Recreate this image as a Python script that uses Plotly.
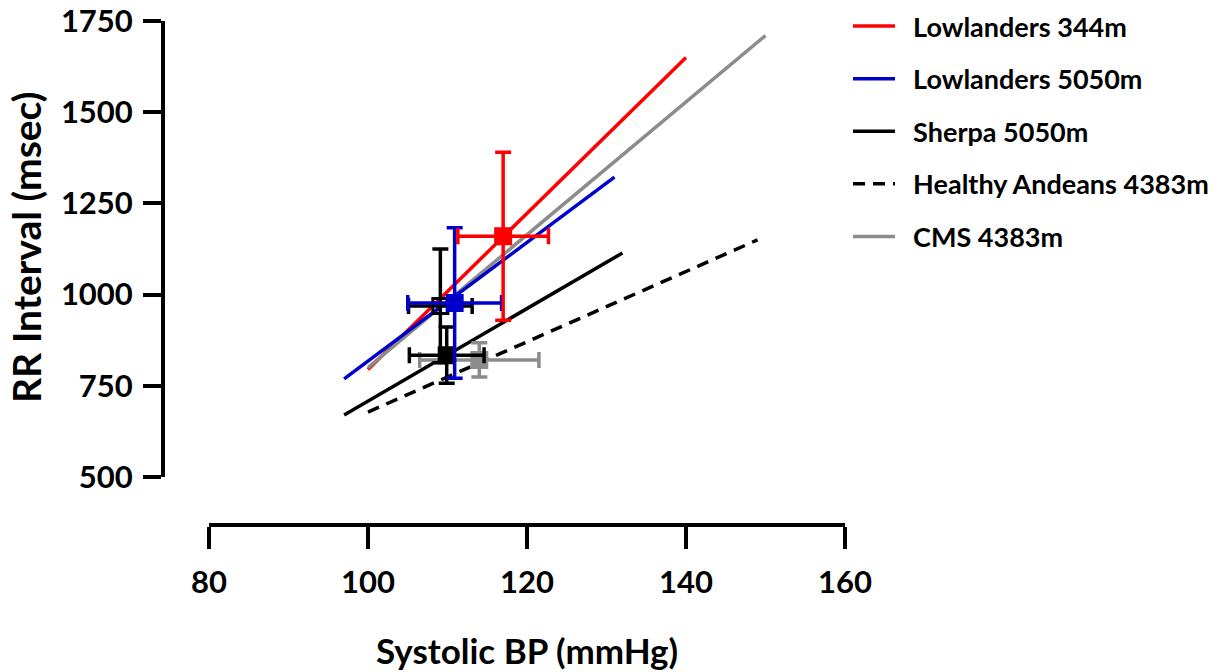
import plotly.graph_objects as go

# Regression lines: RR interval vs systolic BP for each group
groups = ["Lowlanders 344m", "Lowlanders 5050m", "Sherpa 5050m",
          "Healthy Andeans 4383m", "CMS 4383m"]
line_x = {
    "Lowlanders 344m": [100, 140],
    "Lowlanders 5050m": [97, 131],
    "Sherpa 5050m": [97, 132],
    "Healthy Andeans 4383m": [100, 149],
    "CMS 4383m": [100, 150],
}
line_y = {
    "Lowlanders 344m": [795, 1650],
    "Lowlanders 5050m": [769, 1322],
    "Sherpa 5050m": [670, 1114],
    "Healthy Andeans 4383m": [678, 1150],
    "CMS 4383m": [800, 1710],
}
line_colors = ["#FF0000", "#0000CC", "#000000", "#000000", "#8C8C8C"]
line_dash = ["solid", "solid", "solid", "12px,8px", "solid"]

# Group means with SD (x: systolic BP, y: RR interval)
mean_bp = {"Lowlanders 344m": 117.0, "Lowlanders 5050m": 110.9, "Sherpa 5050m": 109.9,
           "Healthy Andeans 4383m": 114.0, "CMS 4383m": 109.1}
sd_bp = {"Lowlanders 344m": 5.7, "Lowlanders 5050m": 5.9, "Sherpa 5050m": 4.7,
         "Healthy Andeans 4383m": 7.5, "CMS 4383m": 4.0}
mean_rr = {"Lowlanders 344m": 1160, "Lowlanders 5050m": 977, "Sherpa 5050m": 834,
           "Healthy Andeans 4383m": 821, "CMS 4383m": 969}
sd_rr = {"Lowlanders 344m": 230, "Lowlanders 5050m": 206, "Sherpa 5050m": 77,
         "Healthy Andeans 4383m": 47, "CMS 4383m": 156}
point_colors = {"Lowlanders 344m": "#FF0000", "Lowlanders 5050m": "#0000CC",
                "Sherpa 5050m": "#000000", "Healthy Andeans 4383m": "#8C8C8C",
                "CMS 4383m": "#000000"}
point_symbols = {"Lowlanders 344m": "square", "Lowlanders 5050m": "square",
                 "Sherpa 5050m": "square", "Healthy Andeans 4383m": "square",
                 "CMS 4383m": "square-open"}
point_order = ["Healthy Andeans 4383m", "CMS 4383m", "Sherpa 5050m",
               "Lowlanders 5050m", "Lowlanders 344m"]

x_ticks = [80, 100, 120, 140, 160]
y_ticks = [500, 750, 1000, 1250, 1500, 1750]

FONT = "Lato"
W, H = 1226, 672
NBSP = "\u00a0"

fig = go.Figure()

# lines drawn bottom-to-top
line_order = ["Lowlanders 344m", "CMS 4383m", "Healthy Andeans 4383m",
              "Sherpa 5050m", "Lowlanders 5050m"]
legend_rank = {g: i for i, g in enumerate(groups)}
for g in line_order:
    i = groups.index(g)
    fig.add_trace(go.Scatter(
        x=line_x[g], y=line_y[g], mode="lines", name=NBSP * 2 + g,
        legendgroup=g, legendrank=legend_rank[g],
        line=dict(color=line_colors[i], width=3.5, dash=line_dash[i]),
        hoverinfo="skip",
    ))

for g in point_order:
    c = point_colors[g]
    fig.add_trace(go.Scatter(
        x=[mean_bp[g]], y=[mean_rr[g]], mode="markers", showlegend=False,
        legendgroup=g,
        marker=dict(symbol=point_symbols[g], size=15, color=c,
                    line=dict(color=c, width=3)),
        error_x=dict(type="data", array=[sd_bp[g]], color=c, thickness=3.5, width=8),
        error_y=dict(type="data", array=[sd_rr[g]], color=c, thickness=3.5, width=8),
    ))

tick_font = dict(family=FONT, size=31, color="black", weight="bold")

fig.update_layout(
    width=W, height=H,
    margin=dict(l=0, r=0, t=0, b=0),
    paper_bgcolor="white", plot_bgcolor="white",
    showlegend=True,
    legend=dict(
        x=848 / W, y=1 - 2 / H, xanchor="left", yanchor="top",
        font=dict(family=FONT, size=27, color="black", weight="bold"),
        tracegroupgap=14.5, itemwidth=42, bgcolor="rgba(0,0,0,0)",
    ),
    xaxis=dict(
        domain=[209 / W, 845 / W], range=[80, 160],
        anchor="free", position=1 - 525 / H,
        showline=True, linewidth=4, linecolor="black",
        ticks="outside", ticklen=22, tickwidth=4, tickcolor="black",
        tickvals=x_ticks, tickfont=tick_font, ticklabelstandoff=7,
        showgrid=False, zeroline=False, automargin=False,
    ),
    yaxis=dict(
        domain=[1 - 477 / H, 1 - 21 / H], range=[500, 1750],
        anchor="free", position=163 / W,
        showline=True, linewidth=4, linecolor="black",
        ticks="outside", ticklen=18, tickwidth=4, tickcolor="black",
        tickvals=y_ticks, tickfont=tick_font, ticklabelstandoff=4,
        showgrid=False, zeroline=False, automargin=False,
    ),
    annotations=[
        dict(text="Systolic BP (mmHg)", x=527 / W, y=1 - 650 / H,
             xref="paper", yref="paper", showarrow=False,
             xanchor="center", yanchor="middle",
             font=dict(family=FONT, size=35, color="black", weight="bold")),
        dict(text="RR Interval (msec)", x=26 / W, y=1 - 248 / H,
             xref="paper", yref="paper", showarrow=False, textangle=-90,
             xanchor="center", yanchor="middle",
             font=dict(family=FONT, size=39, color="black", weight="bold")),
    ],
)

fig.write_html("out.html")
